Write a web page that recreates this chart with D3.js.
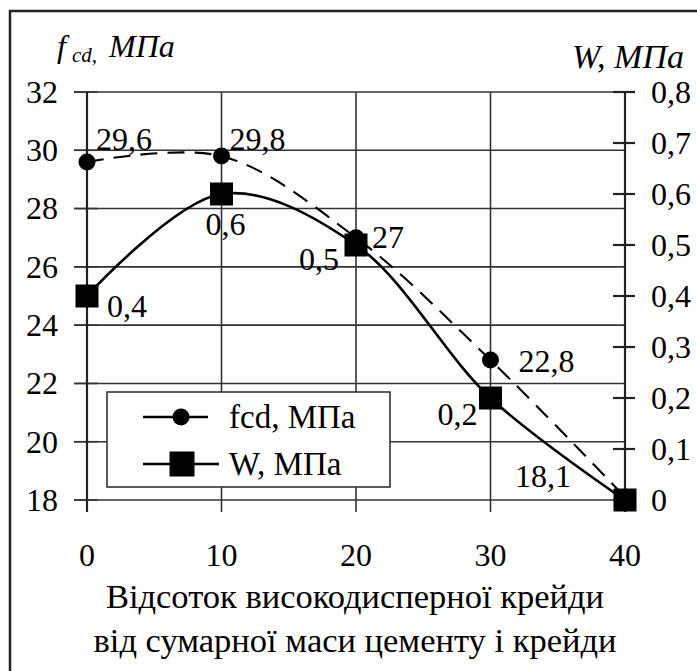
<!DOCTYPE html>
<html><head><meta charset="utf-8"><script src="https://cdn.jsdelivr.net/npm/d3@7"></script></head>
<body style="margin:0">
<svg id="chart" width="697" height="671"></svg>
<script>
// Chalk share, % of total cement + chalk mass
const chalkShare = [0, 10, 20, 30, 40];
// Compressive strength fcd, MPa
const fcdValues = [29.6, 29.8, 27, 22.8, 18.1];
// W, MPa
const wValues = [0.4, 0.6, 0.5, 0.2, 0];

const fcdLabels = ["29,6", "29,8", "27", "22,8", "18,1"];
const wLabels = ["0,4", "0,6", "0,5", "0,2", ""];

const leftTicks = [18, 20, 22, 24, 26, 28, 30, 32];
const rightTicks = [0, 0.1, 0.2, 0.3, 0.4, 0.5, 0.6, 0.7, 0.8];
const xTicks = [0, 10, 20, 30, 40];

const xTitle = ["Відсоток високодисперної крейди", "від сумарної маси цементу і крейди"];
const legendNames = ["fcd, МПа", "W, МПа"];

const FONT = '"Liberation Serif"';
const svg = d3.select("#chart");
const fs = 32;

const x = d3.scaleLinear().domain([0, 40]).range([87, 625]);
const yL = d3.scaleLinear().domain([18, 32]).range([500, 92]);
const yR = d3.scaleLinear().domain([0, 0.8]).range([500, 92]);

// frame: left and top edges
svg.append("path").attr("d", "M10,671 V11 H697")
  .attr("fill", "none").attr("stroke", "#222").attr("stroke-width", 2.5);

const grid = svg.append("g").attr("stroke", "#333").attr("stroke-width", 1.6);
// horizontal grid, running out past the left axis as ticks
leftTicks.forEach(v => {
  grid.append("line").attr("x1", 74).attr("x2", x(40)).attr("y1", yL(v)).attr("y2", yL(v));
});
// vertical grid, running below the bottom as ticks
xTicks.forEach(v => {
  grid.append("line").attr("x1", x(v)).attr("x2", x(v)).attr("y1", yL(32)).attr("y2", 512);
});
// left axis ticks on inner side
leftTicks.forEach(v => {
  grid.append("line").attr("x1", 74).attr("x2", 98).attr("y1", yL(v)).attr("y2", yL(v));
});
// right axis
const rAxis = svg.append("g").attr("stroke", "#222").attr("stroke-width", 2.2);
rAxis.append("line").attr("x1", x(40)).attr("x2", x(40)).attr("y1", yR(0.8)).attr("y2", 512);
rightTicks.forEach(v => {
  rAxis.append("line").attr("x1", 613).attr("x2", 635).attr("y1", yR(v)).attr("y2", yR(v));
});
svg.append("line").attr("x1", 87).attr("x2", 87).attr("y1", 92).attr("y2", 512)
  .attr("stroke", "#222").attr("stroke-width", 2.2);

// tick labels
svg.append("g").selectAll("text").data(leftTicks).join("text")
  .style("font-family", FONT)
  .attr("x", 58).attr("y", d => yL(d)).attr("dy", "0.34em")
  .attr("text-anchor", "end").attr("font-size", fs).text(d => d);
svg.append("g").selectAll("text").data(rightTicks).join("text")
  .style("font-family", FONT)
  .attr("x", 651).attr("y", d => yR(d)).attr("dy", "0.34em")
  .attr("font-size", fs).text(d => d === 0 ? "0" : String(d).replace(".", ","));
svg.append("g").selectAll("text").data(xTicks).join("text")
  .style("font-family", FONT)
  .attr("x", d => x(d)).attr("y", 566)
  .attr("text-anchor", "middle").attr("font-size", fs).text(d => d);

// axis titles
const tl = svg.append("text").style("font-family", FONT)
  .attr("x", 57).attr("y", 57).attr("font-style", "italic").attr("font-size", fs);
tl.append("tspan").text("f");
tl.append("tspan").attr("font-size", 21).attr("dx", 6).attr("dy", 5).text("cd,");
tl.append("tspan").attr("dx", 12).attr("dy", -5).text("МПа");
svg.append("text").style("font-family", FONT)
  .attr("x", 684).attr("y", 68).attr("text-anchor", "end")
  .attr("font-style", "italic").attr("font-size", 34).text("W, МПа");
svg.append("g").selectAll("text").data(xTitle).join("text")
  .style("font-family", FONT)
  .attr("x", 355).attr("y", (d, i) => 608 + i * 44)
  .attr("text-anchor", "middle").attr("font-size", 34.5).text(d => d);

// series
const fcdData = chalkShare.map((c, i) => ({ c, v: fcdValues[i], label: fcdLabels[i] }));
const wData = chalkShare.map((c, i) => ({ c, v: wValues[i], label: wLabels[i] }));

const fcdLine = d3.line().x(d => x(d.c)).y(d => yL(d.v)).curve(d3.curveCatmullRom.alpha(0.5));
const wLine = d3.line().x(d => x(d.c)).y(d => yR(d.v)).curve(d3.curveCatmullRom.alpha(0.5));

svg.append("path").datum(fcdData).attr("d", fcdLine)
  .attr("fill", "none").attr("stroke", "#000").attr("stroke-width", 2.1)
  .attr("stroke-dasharray", "17,10");
svg.append("path").datum(wData).attr("d", wLine)
  .attr("fill", "none").attr("stroke", "#000").attr("stroke-width", 2.6);

svg.append("g").selectAll("circle").data(fcdData.slice(0, 4)).join("circle")
  .attr("cx", d => x(d.c)).attr("cy", d => yL(d.v)).attr("r", 8.5).attr("fill", "#000");
const sq = 23;
svg.append("g").selectAll("rect").data(wData).join("rect")
  .attr("x", d => x(d.c) - sq / 2).attr("y", d => yR(d.v) - sq / 2)
  .attr("width", sq).attr("height", sq).attr("fill", "#000");

// value labels
const fcdOff = [[9, -12], [8, -6], [16, 10], [28, 12], [-110, -10]];
svg.append("g").selectAll("text").data(fcdData).join("text")
  .style("font-family", FONT)
  .attr("x", (d, i) => x(d.c) + fcdOff[i][0]).attr("y", (d, i) => yL(d.v) + fcdOff[i][1])
  .attr("font-size", fs).text(d => d.label);
const wOff = [[20, 21], [-16, 41], [-57, 25], [-53, 27], [0, 0]];
svg.append("g").selectAll("text").data(wData).join("text")
  .style("font-family", FONT)
  .attr("x", (d, i) => x(d.c) + wOff[i][0]).attr("y", (d, i) => yR(d.v) + wOff[i][1])
  .attr("font-size", fs).text(d => d.label);

// legend
const lg = svg.append("g");
lg.append("rect").attr("x", 107).attr("y", 392).attr("width", 283).attr("height", 95)
  .attr("fill", "#fff").attr("stroke", "#333").attr("stroke-width", 1.6);
lg.append("line").attr("x1", 143).attr("x2", 208).attr("y1", 417).attr("y2", 417)
  .attr("stroke", "#000").attr("stroke-width", 2.6);
lg.append("circle").attr("cx", 181).attr("cy", 417).attr("r", 8.5).attr("fill", "#000");
lg.append("line").attr("x1", 143).attr("x2", 219).attr("y1", 464).attr("y2", 464)
  .attr("stroke", "#000").attr("stroke-width", 2.6);
lg.append("rect").attr("x", 182 - 12.5).attr("y", 464 - 12.5).attr("width", 25).attr("height", 25).attr("fill", "#000");
lg.selectAll("text.n").data(legendNames).join("text")
  .style("font-family", FONT)
  .attr("x", 229).attr("y", (d, i) => 428 + i * 47).attr("font-size", 33).text(d => d);
</script>
</body>
</html>
